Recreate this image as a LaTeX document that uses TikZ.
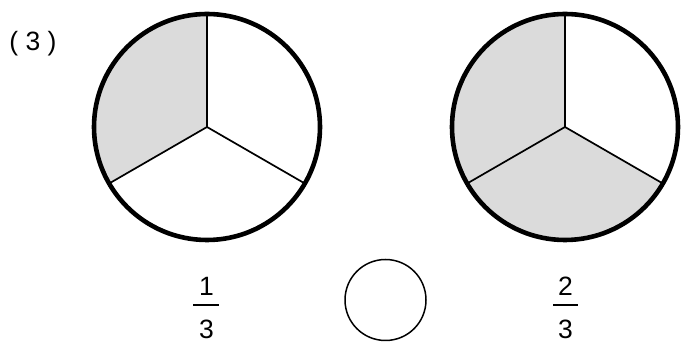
\documentclass[tikz,border=0pt]{standalone}
\usepackage{fontspec}
\setmainfont{Liberation Sans}
\begin{document}
\begin{tikzpicture}[x=1pt,y=1pt,
  ring/.style={line width=4.6pt},
  spoke/.style={line width=1.7pt},
  shade/.style={fill=black!14},
  lbl/.style={font=\fontsize{26.5}{30}\selectfont, inner sep=0pt},
  fbar/.style={line width=1.8pt}]
\useasboundingbox (0,0) rectangle (686,350);
\node[lbl] (num) at (33,306) {( 3 )};
% circle 1
\coordinate (c1) at (207,223);
\fill[shade] (c1) -- ++(90:113) arc (90:210:113) -- cycle;
\draw[spoke] (c1) -- ++(90:113);
\draw[spoke] (c1) -- ++(210:113);
\draw[spoke] (c1) -- ++(330:113);
\draw[ring] (c1) circle (113);
% circle 2
\coordinate (c2) at (565,223);
\fill[shade] (c2) -- ++(90:113) arc (90:330:113) -- cycle;
\draw[spoke] (c2) -- ++(90:113);
\draw[spoke] (c2) -- ++(210:113);
\draw[spoke] (c2) -- ++(330:113);
\draw[ring] (c2) circle (113);
% small circle
\node[draw, circle, line width=1.5pt, minimum size=81pt, inner sep=0pt] (blank) at (385.5,50) {};
% fractions
\node[lbl] (n1) at (206.5,64) {1};
\node[lbl] (d1) at (206.5,21) {3};
\draw[fbar] (193,45) -- (219,45);
\node[lbl] (n2) at (565.5,64) {2};
\node[lbl] (d2) at (565.5,21) {3};
\draw[fbar] (553,45) -- (578,45);
\end{tikzpicture}
\end{document}
